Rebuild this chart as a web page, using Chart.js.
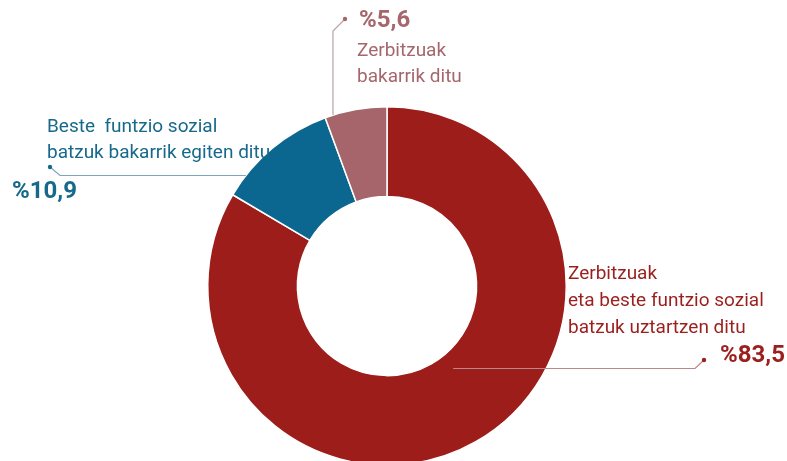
<!DOCTYPE html>
<html>
<head>
<meta charset="utf-8">
<script src="https://cdn.jsdelivr.net/npm/chart.js@4"></script>
<style>
  html, body { margin: 0; padding: 0; background: #fff; overflow: hidden; }
  #c { display: block; }
</style>
</head>
<body>
<canvas id="c" width="787" height="600"></canvas>
<script>
// Data
var categories = [
  "Zerbitzuak eta beste funtzio sozial batzuk uztartzen ditu",
  "Beste funtzio sozial batzuk bakarrik egiten ditu",
  "Zerbitzuak bakarrik ditu"
];
var shares = [83.5, 10.9, 5.6];
var shareLabels = ["%83,5", "%10,9", "%5,6"];
var textLines = [
  ["Zerbitzuak", "eta beste funtzio sozial", "batzuk uztartzen ditu"],
  ["Beste  funtzio sozial", "batzuk bakarrik egiten ditu"],
  ["Zerbitzuak", "bakarrik ditu"]
];
var sliceColors = ["#9c1d19", "#0b6790", "#a6656a"];
var textColors = ["#9a1f1d", "#17698c", "#a5676c"];
var lineColors = ["#b9888a", "#7fa6b8", "#b9a3a5"];

// label layout (where the text sits and how the leader runs)
var layout = [
  { at: 0.47, rf: 0.18, dir: "h", elbow: 695, dot: [704, 360],
    text: [568, 274, 27], pct: [720, 356] },
  { at: 0.19, rf: 1.0, dir: "h", elbow: 60, dot: [50, 167],
    text: [47, 127, 26], pct: [12, 192] },
  { at: 0.13, rf: 1.0, dir: "v", elbow: 31, dot: [345, 19],
    text: [357, 51, 26], pct: [359, 21] }
];

var sliceLabels = {
  id: "sliceLabels",
  afterDatasetsDraw: function (chart) {
    var ctx = chart.ctx;
    var arcs = chart.getDatasetMeta(0).data;
    arcs.forEach(function (arc, i) {
      var L = layout[i];
      var a = arc.startAngle + (arc.endAngle - arc.startAngle) * L.at;
      var r = arc.innerRadius + (arc.outerRadius - arc.innerRadius) * L.rf;
      var ax = arc.x + r * Math.cos(a);
      var ay = arc.y + r * Math.sin(a);

      ctx.save();
      ctx.strokeStyle = lineColors[i];
      ctx.lineWidth = 1.2;
      ctx.beginPath();
      ctx.moveTo(ax, ay);
      if (L.dir === "h") ctx.lineTo(L.elbow, ay);
      else ctx.lineTo(ax, L.elbow);
      ctx.lineTo(L.dot[0], L.dot[1]);
      ctx.stroke();
      ctx.fillStyle = textColors[i];
      ctx.beginPath();
      ctx.arc(L.dot[0], L.dot[1], 2.2, 0, Math.PI * 2);
      ctx.fill();

      ctx.textBaseline = "middle";
      ctx.textAlign = "left";
      ctx.font = "19px Roboto";
      textLines[i].forEach(function (t, k) {
        ctx.fillText(t, L.text[0], L.text[1] + k * L.text[2]);
      });
      ctx.font = "bold 24px Roboto";
      ctx.fillText(shareLabels[i], L.pct[0], L.pct[1]);
      ctx.restore();
    });
  }
};

new Chart("c", {
  type: "doughnut",
  data: {
    labels: categories,
    datasets: [{
      data: shares,
      backgroundColor: sliceColors,
      borderColor: "#ffffff",
      borderWidth: 1.5,
      hoverOffset: 0
    }]
  },
  options: {
    responsive: false,
    animation: false,
    cutout: "50%",
    layout: { padding: { left: 207, right: 220, top: 106, bottom: 134 } },
    plugins: {
      legend: { display: false },
      tooltip: { enabled: false }
    }
  },
  plugins: [sliceLabels]
});
</script>
</body>
</html>
